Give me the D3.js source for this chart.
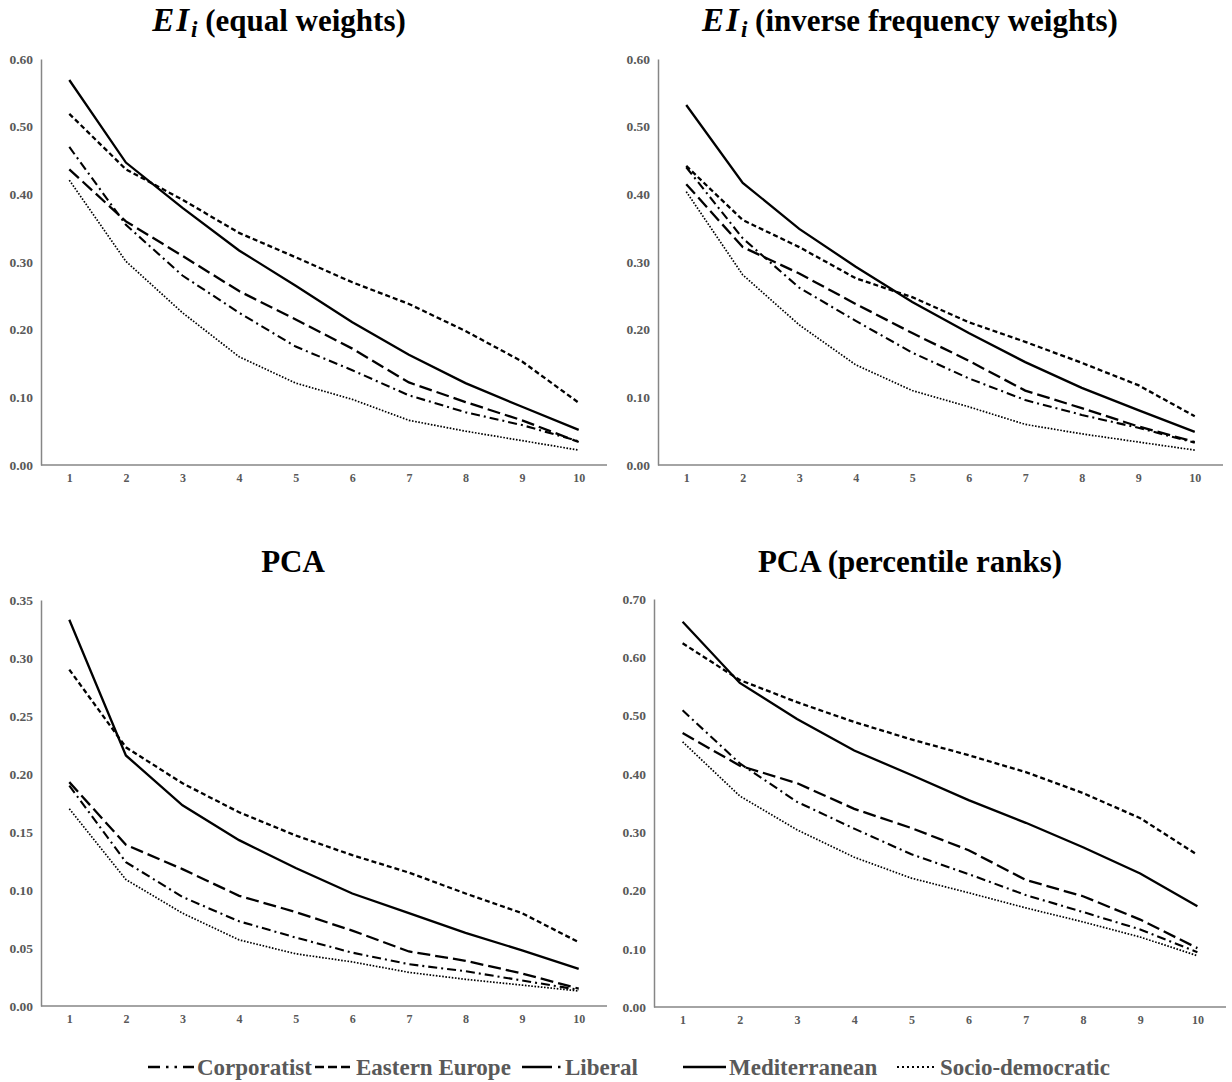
<!DOCTYPE html>
<html>
<head>
<meta charset="utf-8">
<script src="https://cdn.jsdelivr.net/npm/d3@7"></script>
<style>
  body { margin: 0; background: #fff; }
  svg { display: block; }
  text { font-family: "Liberation Serif", "Times New Roman", serif; font-weight: bold; }
</style>
</head>
<body>
<svg id="chart" width="1232" height="1082"></svg>
<script>
// deciles on the x axis
const deciles = [1, 2, 3, 4, 5, 6, 7, 8, 9, 10];
const regimes = ["Corporatist", "Eastern Europe", "Liberal", "Mediterranean", "Socio-democratic"];

// one row per regime, same order as above
const eiEqual = [
  [0.470, 0.355, 0.280, 0.225, 0.175, 0.140, 0.103, 0.078, 0.059, 0.035],
  [0.519, 0.437, 0.392, 0.343, 0.307, 0.270, 0.238, 0.198, 0.153, 0.092],
  [0.437, 0.360, 0.309, 0.257, 0.215, 0.172, 0.122, 0.093, 0.066, 0.034],
  [0.569, 0.447, 0.380, 0.317, 0.265, 0.211, 0.163, 0.121, 0.086, 0.052],
  [0.421, 0.301, 0.225, 0.160, 0.121, 0.097, 0.066, 0.050, 0.036, 0.022]
];
const eiInverse = [
  [0.440, 0.335, 0.262, 0.213, 0.166, 0.128, 0.096, 0.074, 0.055, 0.033],
  [0.442, 0.362, 0.322, 0.276, 0.248, 0.211, 0.182, 0.151, 0.118, 0.072],
  [0.415, 0.322, 0.283, 0.238, 0.195, 0.154, 0.110, 0.084, 0.057, 0.034],
  [0.532, 0.417, 0.349, 0.293, 0.241, 0.195, 0.152, 0.114, 0.081, 0.049],
  [0.404, 0.281, 0.207, 0.148, 0.110, 0.086, 0.060, 0.046, 0.034, 0.022]
];
const pca = [
  [0.190, 0.124, 0.094, 0.073, 0.059, 0.046, 0.036, 0.030, 0.022, 0.014],
  [0.290, 0.223, 0.192, 0.167, 0.147, 0.130, 0.115, 0.097, 0.080, 0.055],
  [0.193, 0.139, 0.118, 0.095, 0.081, 0.065, 0.047, 0.039, 0.028, 0.015],
  [0.333, 0.216, 0.173, 0.143, 0.119, 0.097, 0.080, 0.063, 0.048, 0.032],
  [0.170, 0.109, 0.080, 0.057, 0.045, 0.038, 0.029, 0.023, 0.018, 0.013]
];
const pcaRanks = [
  [0.509, 0.418, 0.352, 0.306, 0.262, 0.228, 0.192, 0.163, 0.133, 0.094],
  [0.624, 0.561, 0.523, 0.489, 0.459, 0.432, 0.403, 0.367, 0.324, 0.261],
  [0.470, 0.414, 0.384, 0.340, 0.307, 0.269, 0.218, 0.190, 0.150, 0.101],
  [0.661, 0.556, 0.494, 0.440, 0.398, 0.355, 0.316, 0.274, 0.229, 0.173],
  [0.455, 0.362, 0.304, 0.257, 0.221, 0.196, 0.170, 0.146, 0.120, 0.088]
];

const ticks60 = [0, 0.1, 0.2, 0.3, 0.4, 0.5, 0.6];
const ticks35 = [0, 0.05, 0.1, 0.15, 0.2, 0.25, 0.3, 0.35];
const ticks70 = [0, 0.1, 0.2, 0.3, 0.4, 0.5, 0.6, 0.7];

// line look for each regime
const lineStyle = [
  { dash: "9,4,2,4", width: 2.1 },
  { dash: "5,3", width: 2.3 },
  { dash: "13,5", width: 2.3 },
  { dash: null, width: 2.3 },
  { dash: "1.6,1.6", width: 1.7 }
];
const legendDash = ["12,6,2.5,6,2.5,6", "9,4", "30,6,2.5,10", null, "2,3"];

const panels = [
  { data: eiEqual, ticks: ticks60, max: 0.6, x0: 41, x1: 607, yTop: 59, yBot: 465, tx: 279, ty: 31, title: "equal weights", ei: true },
  { data: eiInverse, ticks: ticks60, max: 0.6, x0: 658, x1: 1223, yTop: 59, yBot: 465, tx: 910, ty: 31, title: "inverse frequency weights", ei: true },
  { data: pca, ticks: ticks35, max: 0.35, x0: 41, x1: 607, yTop: 600, yBot: 1006, tx: 293, ty: 572, title: "PCA", ei: false },
  { data: pcaRanks, ticks: ticks70, max: 0.7, x0: 654, x1: 1226, yTop: 599, yBot: 1007, tx: 910, ty: 572, title: "PCA (percentile ranks)", ei: false }
];

const svg = d3.select("#chart");
const axisColor = "#868686";
const labelColor = "#595959";

panels.forEach(p => {
  const x = d3.scalePoint().domain(deciles).range([p.x0, p.x1]).padding(0.5);
  const y = d3.scaleLinear().domain([0, p.max]).range([p.yBot, p.yTop]);

  const g = svg.append("g");

  const yAxis = g.append("g")
    .attr("transform", `translate(${p.x0},0)`)
    .call(d3.axisLeft(y).tickValues(p.ticks).tickFormat(d3.format(".2f")).tickSize(0).tickPadding(8));
  yAxis.select(".domain").attr("stroke", axisColor).attr("stroke-width", 1.5);
  yAxis.selectAll("text").attr("fill", labelColor).style("font-size", "13.5px").style("font-family", "Liberation Serif").style("font-weight", "bold");

  const xAxis = g.append("g")
    .attr("transform", `translate(0,${p.yBot})`)
    .call(d3.axisBottom(x).tickSize(0).tickSizeOuter(0).tickPadding(8));
  xAxis.select(".domain").attr("stroke", axisColor).attr("stroke-width", 1.5)
    .attr("d", `M${p.x0},0H${p.x1}`);
  xAxis.selectAll("text").attr("fill", labelColor).style("font-size", "12px").style("font-family", "Liberation Serif").style("font-weight", "bold");

  const line = d3.line().x((d, i) => x(deciles[i])).y(d => y(d));

  p.data.forEach((vals, k) => {
    g.append("path")
      .datum(vals)
      .attr("fill", "none")
      .attr("stroke", "#000")
      .attr("stroke-width", lineStyle[k].width)
      .attr("stroke-dasharray", lineStyle[k].dash)
      .attr("d", line);
  });

  const t = g.append("text")
    .attr("x", p.tx).attr("y", p.ty)
    .attr("text-anchor", "middle")
    .attr("fill", "#000")
    .style("font-size", "31px");
  if (p.ei) {
    t.append("tspan").style("font-style", "italic").style("font-size", "33px").attr("letter-spacing", 2).text("EI");
    t.append("tspan").style("font-style", "italic").style("font-size", "23px").attr("dy", 6).text("i");
    t.append("tspan").attr("dy", -6).text(" (" + p.title + ")");
  } else {
    t.text(p.title);
  }
});

// legend along the bottom
const legendX = [148, 315, 522, 683, 897];
const legendW = [46, 38, 40, 43, 40];
const legend = svg.append("g").attr("transform", "translate(0,1067)");
regimes.forEach((name, k) => {
  const item = legend.append("g");
  item.append("line")
    .attr("x1", legendX[k]).attr("x2", legendX[k] + legendW[k])
    .attr("y1", 0).attr("y2", 0)
    .attr("stroke", "#000")
    .attr("stroke-width", k === 4 ? 2 : 2.6)
    .attr("stroke-dasharray", legendDash[k]);
  item.append("text")
    .attr("x", legendX[k] + legendW[k] + 3)
    .attr("y", 8)
    .attr("fill", labelColor)
    .style("font-size", "23px")
    .text(name);
});
</script>
</body>
</html>
